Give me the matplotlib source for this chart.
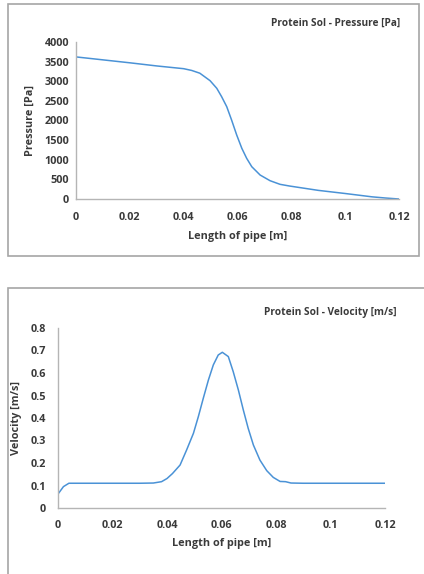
import numpy as np
import matplotlib
matplotlib.use("Agg")
import matplotlib.pyplot as plt
from matplotlib.patches import Rectangle

# Pressure along the pipe [Pa]
pressure_x = [0, 0.01, 0.02, 0.03, 0.04, 0.043, 0.046, 0.0498, 0.0523, 0.0541,
              0.056, 0.0578, 0.0597, 0.0616, 0.0634, 0.0653, 0.0684, 0.0721,
              0.0758, 0.0793, 0.09, 0.1, 0.11, 0.115, 0.12]
pressure_y = [3620, 3545, 3470, 3390, 3320, 3275, 3205, 3015, 2820, 2607,
              2352, 2013, 1631, 1292, 1037, 823, 611, 466,
              374, 331, 220, 140, 55, 25, 0]

# Velocity along the pipe [m/s]
velocity_x = [0, 0.002, 0.004, 0.01, 0.02, 0.03, 0.035, 0.038, 0.04, 0.042, 0.0448,
              0.0472, 0.0497, 0.0515, 0.0533, 0.0552, 0.057, 0.0588, 0.0603, 0.0625,
              0.0643, 0.0662, 0.068, 0.0698, 0.0717, 0.0741, 0.0766, 0.079, 0.0815,
              0.0835, 0.0855, 0.09, 0.1, 0.11, 0.12]
velocity_y = [0.062, 0.095, 0.11, 0.11, 0.11, 0.11, 0.111, 0.117, 0.131, 0.153, 0.191,
              0.258, 0.332, 0.406, 0.487, 0.569, 0.636, 0.68, 0.692, 0.673,
              0.606, 0.524, 0.436, 0.354, 0.28, 0.213, 0.166, 0.136, 0.118,
              0.117, 0.111, 0.11, 0.11, 0.11, 0.11]

x_ticks = [0, 0.02, 0.04, 0.06, 0.08, 0.1, 0.12]
x_ticklabels = ["0", "0.02", "0.04", "0.06", "0.08", "0.1", "0.12"]
p_ticks = [0, 500, 1000, 1500, 2000, 2500, 3000, 3500, 4000]
v_ticks = [0, 0.1, 0.2, 0.3, 0.4, 0.5, 0.6, 0.7, 0.8]
v_ticklabels = ["0", "0.1", "0.2", "0.3", "0.4", "0.5", "0.6", "0.7", "0.8"]

W, H = 424, 574
plt.rcParams["font.family"] = ["Open Sans", "DejaVu Sans"]
plt.rcParams["font.weight"] = "bold"
text_col = "#3a3a3a"
line_col = "#4a92d6"
axis_col = "#b5b5b5"
fs = 7.8

fig = plt.figure(figsize=(W / 100, H / 100), dpi=100)


def px_axes(left, right, top, bottom):
    return fig.add_axes([left / W, 1 - bottom / H, (right - left) / W, (bottom - top) / H])


def frame(x0, y0, x1, y1):
    fig.patches.append(Rectangle((x0 / W, 1 - y1 / H), (x1 - x0) / W, (y1 - y0) / H,
                                 transform=fig.transFigure, fill=False,
                                 edgecolor="#a6a6a6", linewidth=1.2))


def style(ax, ypad, xpad):
    for s in ["top", "right"]:
        ax.spines[s].set_visible(False)
    for s in ["left", "bottom"]:
        ax.spines[s].set_color(axis_col)
        ax.spines[s].set_linewidth(1.0)
    ax.tick_params(length=0, labelsize=fs, labelcolor=text_col)
    ax.tick_params(axis="y", pad=ypad)
    ax.tick_params(axis="x", pad=xpad)


# pressure panel
frame(8, 4, 419, 256)
ax1 = px_axes(76, 399, 42, 199)
ax1.plot(pressure_x, pressure_y, color=line_col, linewidth=1.1)
ax1.set_xlim(0, 0.12)
ax1.set_ylim(0, 4000)
ax1.set_xticks(x_ticks, x_ticklabels)
ax1.set_yticks(p_ticks)
style(ax1, 5, 9.5)
ax1.set_xlabel("Length of pipe [m]", fontsize=fs, fontweight="bold", color=text_col, labelpad=5.5)
ax1.set_ylabel("Pressure [Pa]", fontsize=fs, fontweight="bold", color=text_col, labelpad=6.5)
fig.text(400 / W, 1 - 23 / H, "Protein Sol - Pressure [Pa]", ha="right", va="center",
         fontsize=7.3, color=text_col)

# velocity panel
frame(8, 288, 430, 590)
ax2 = px_axes(58, 385, 328, 508)
ax2.plot(velocity_x, velocity_y, color=line_col, linewidth=1.1)
ax2.set_xlim(0, 0.12)
ax2.set_ylim(0, 0.8)
ax2.set_xticks(x_ticks, x_ticklabels)
ax2.set_yticks(v_ticks, v_ticklabels)
style(ax2, 8.5, 8.5)
ax2.set_xlabel("Length of pipe [m]", fontsize=fs, fontweight="bold", color=text_col, labelpad=5.5)
ax2.set_ylabel("Velocity [m/s]", fontsize=fs, fontweight="bold", color=text_col, labelpad=6.5)
fig.text(397 / W, 1 - 313 / H, "Protein Sol - Velocity [m/s]", ha="right", va="center",
         fontsize=7.3, color=text_col)

fig.savefig("out.png", dpi=100)
